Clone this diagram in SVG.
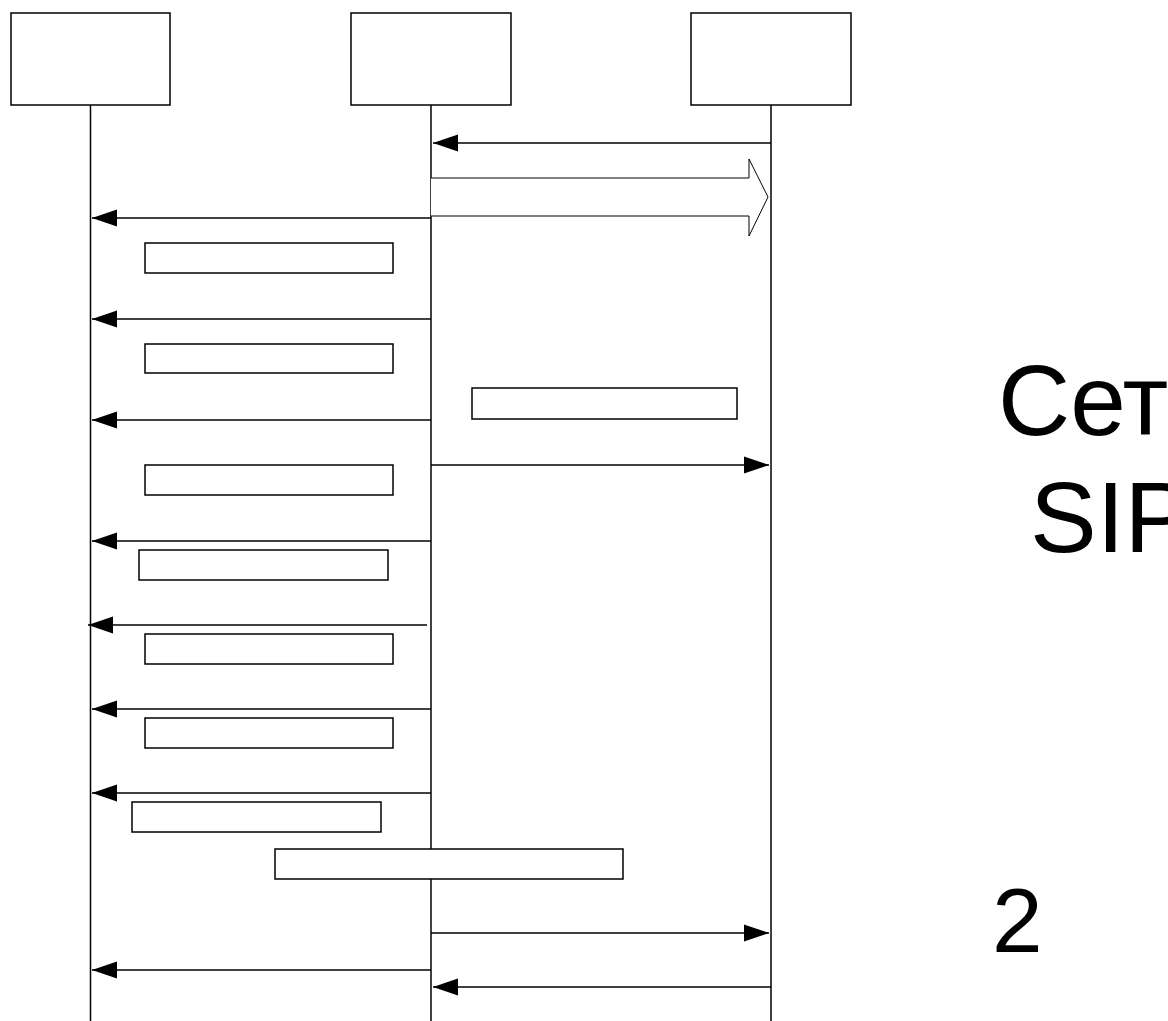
<svg xmlns="http://www.w3.org/2000/svg" width="1168" height="1021" viewBox="0 0 1168 1021">
<style>
.box{fill:#fff;stroke:#000;stroke-width:1.5}
.ll{stroke:#000;stroke-width:1.5;fill:none}
.msg{stroke:#000;stroke-width:1.5;fill:none}
.big{font-family:"Liberation Sans",Arial,sans-serif;fill:#000}
</style>
<defs>
<marker id="ah" markerWidth="26" markerHeight="18" refX="25" refY="9" orient="auto" markerUnits="userSpaceOnUse">
<path d="M0,0.5 L25,9 L0,17.5 Z" fill="#000"/>
</marker>
</defs>
<rect width="1168" height="1021" fill="#fff"/>
<g id="participant-1"><rect class="box" x="11" y="13" width="159" height="92"/></g>
<g id="participant-2"><rect class="box" x="351" y="13" width="160" height="92"/></g>
<g id="participant-3"><rect class="box" x="691" y="13" width="160" height="92"/></g>
<g id="lifelines">
<line class="ll" x1="90.5" y1="105" x2="90.5" y2="1021"/>
<line class="ll" x1="431" y1="105" x2="431" y2="1021"/>
<line class="ll" x1="771" y1="105" x2="771" y2="1021"/>
</g>
<g id="connectors">
<line class="msg" x1="771" y1="143" x2="433" y2="143" marker-end="url(#ah)"/>
<path id="hollow-arrow" d="M431,178 L749,178 L749,159 L768,197 L749,236 L749,216 L431,216" fill="#fff" stroke="#000" stroke-width="1"/>
<line class="msg" x1="431" y1="218" x2="92" y2="218" marker-end="url(#ah)"/>
<line class="msg" x1="431" y1="319" x2="92" y2="319" marker-end="url(#ah)"/>
<line class="msg" x1="431" y1="420" x2="92" y2="420" marker-end="url(#ah)"/>
<line class="msg" x1="431" y1="465" x2="769" y2="465" marker-end="url(#ah)"/>
<line class="msg" x1="431" y1="541" x2="92" y2="541" marker-end="url(#ah)"/>
<line class="msg" x1="427" y1="625" x2="88" y2="625" marker-end="url(#ah)"/>
<line class="msg" x1="431" y1="709" x2="92" y2="709" marker-end="url(#ah)"/>
<line class="msg" x1="431" y1="793" x2="92" y2="793" marker-end="url(#ah)"/>
<line class="msg" x1="431" y1="933" x2="769" y2="933" marker-end="url(#ah)"/>
<line class="msg" x1="431" y1="970" x2="92" y2="970" marker-end="url(#ah)"/>
<line class="msg" x1="771" y1="987" x2="433" y2="987" marker-end="url(#ah)"/>
</g>
<g id="label-box-1"><rect class="box" x="145" y="243" width="248" height="30"/></g>
<g id="label-box-2"><rect class="box" x="145" y="344" width="248" height="29"/></g>
<g id="label-box-3"><rect class="box" x="472" y="388" width="265" height="31"/></g>
<g id="label-box-4"><rect class="box" x="145" y="465" width="248" height="30"/></g>
<g id="label-box-5"><rect class="box" x="139" y="550" width="249" height="30"/></g>
<g id="label-box-6"><rect class="box" x="145" y="634" width="248" height="30"/></g>
<g id="label-box-7"><rect class="box" x="145" y="718" width="248" height="30"/></g>
<g id="label-box-8"><rect class="box" x="132" y="802" width="249" height="30"/></g>
<g id="label-box-9"><rect class="box" x="275" y="849" width="348" height="30"/></g>
<text class="big" x="998" y="435" font-size="100">Сет</text>
<text class="big" x="1030" y="552" font-size="100">SIP</text>
<text class="big" x="992" y="952" font-size="91">2</text>
</svg>
